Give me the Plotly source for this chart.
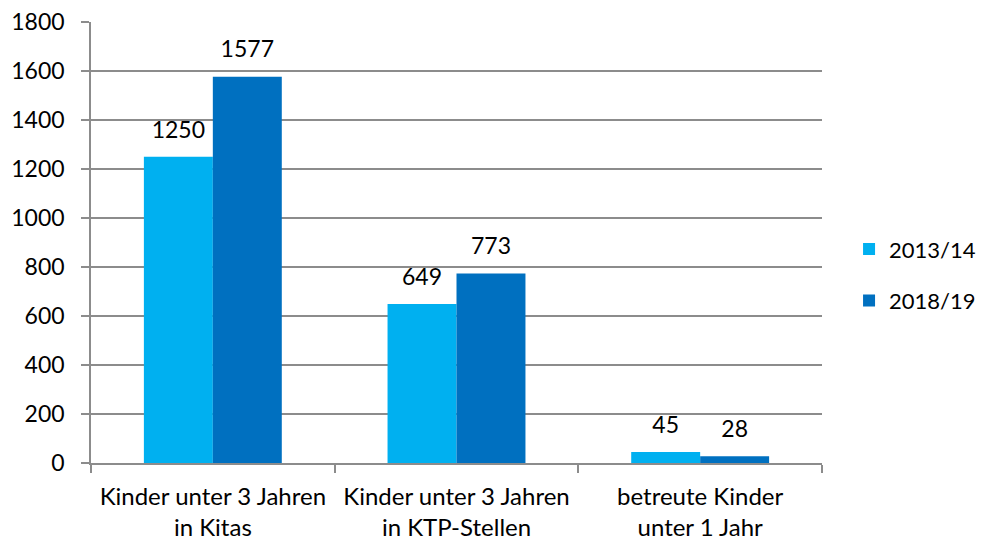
import plotly.graph_objects as go

categories = ["Kinder unter 3 Jahren<br>in Kitas", "Kinder unter 3 Jahren<br>in KTP-Stellen", "betreute Kinder<br>unter 1 Jahr"]
series_names = ["2013/14", "2018/19"]
values_2013 = [1250, 649, 45]
values_2018 = [1577, 773, 28]
colors = ["#00B0F0", "#0070C0"]
y_ticks = [0, 200, 400, 600, 800, 1000, 1200, 1400, 1600, 1800]

FONT = "Lato, Open Sans, sans-serif"
grid = "#8C8C8C"
FS = 23
GAP = 0.434

fig = go.Figure()
for name, vals, col in zip(series_names, [values_2013, values_2018], colors):
    fig.add_trace(go.Bar(
        x=categories, y=vals, name=name, marker=dict(color=col, line=dict(width=0)),
        legendgroup=name, offsetgroup=name,
    ))
for name, vals in zip(series_names, [values_2013, values_2018]):
    fig.add_trace(go.Scatter(
        x=categories, y=vals, mode="markers+text", text=[str(v) for v in vals],
        textposition="top center", cliponaxis=False, showlegend=False,
        marker=dict(size=20, color="rgba(0,0,0,0)"), hoverinfo="skip",
        textfont=dict(size=FS, color="black", family=FONT),
        offsetgroup=name,
    ))

fig.update_layout(
    width=982, height=545,
    margin=dict(l=91, r=160, t=22, b=82, autoexpand=False),
    paper_bgcolor="white", plot_bgcolor="white",
    barmode="group", bargap=GAP, bargroupgap=0,
    scattermode="group", scattergap=GAP,
    font=dict(family=FONT, size=FS, color="black"),
    legend=dict(x=1.037, y=0.426, yanchor="middle", xanchor="left",
                font=dict(size=22, family=FONT), tracegroupgap=20,
                itemwidth=30),
    showlegend=True,
)
fig.update_yaxes(range=[0, 1800], tickvals=y_ticks, showgrid=True, gridcolor=grid, gridwidth=1.5,
                 ticks="outside", ticklen=8, tickcolor=grid, tickwidth=1.5,
                 showline=True, linecolor=grid, linewidth=1.5, zeroline=False,
                 tickfont=dict(size=FS, family=FONT), automargin=False, ticklabelstandoff=12)
fig.update_xaxes(showline=True, linecolor=grid, linewidth=1.5, ticks="outside",
                 tickson="boundaries", ticklen=8, tickcolor=grid, tickwidth=1.5,
                 tickfont=dict(size=24, family=FONT), showgrid=False, automargin=False,
                 ticklabelstandoff=11)

fig.write_html("out.html", config={"displayModeBar": False},
               post_script="document.body.style.margin='0';")
